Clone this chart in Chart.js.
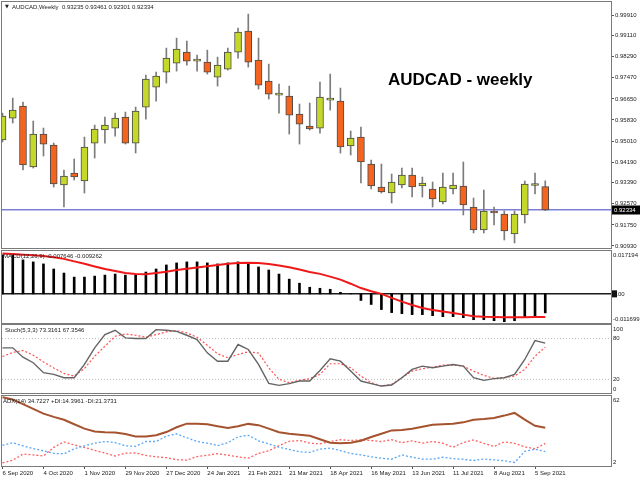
<!DOCTYPE html>
<html>
<head>
<meta charset="utf-8">
<title>AUDCAD weekly</title>
<script src="https://cdn.jsdelivr.net/npm/chart.js@4.4.1/dist/chart.umd.min.js"></script>
<style>
  html, body { margin: 0; padding: 0; background: #ffffff; }
  .stage { position: relative; width: 640px; height: 480px; overflow: hidden; background: #ffffff; }
  .stage canvas { position: absolute; left: 0; }
</style>
</head>
<body>
<div class="stage">
  <canvas id="priceChart" width="640" height="250" style="top:0px"></canvas>
  <canvas id="macdChart" width="640" height="76" style="top:249px"></canvas>
  <canvas id="stochChart" width="640" height="72" style="top:323px"></canvas>
  <canvas id="adxChart" width="640" height="86" style="top:394px"></canvas>
</div>
<script>
// ------------------------Weekly candles (6 Sep 2020 .. 12 Sep 2021)----------
const opens = [0.95050, 0.95905, 0.96372, 0.94000, 0.95283, 0.94855, 0.93300, 0.93767, 0.93456, 0.94933,
  0.95439, 0.95516, 0.95944, 0.94933, 0.96333, 0.97110, 0.97694, 0.98044, 0.98471, 0.98121,
  0.98082, 0.97499, 0.97810, 0.98471, 0.99288, 0.98160, 0.97344, 0.96799, 0.96761, 0.96061,
  0.95594, 0.95516, 0.96605, 0.96566, 0.94817, 0.95166, 0.94117, 0.93222, 0.92989, 0.93300,
  0.93689, 0.93261, 0.93145, 0.92639, 0.93145, 0.93261, 0.92445, 0.91551, 0.92250, 0.92173,
  0.91395, 0.92134, 0.93280, 0.93235]
const highs = [0.96100, 0.96683, 0.96527, 0.95789, 0.95516, 0.94933, 0.93883, 0.94311, 0.95166, 0.95633,
  0.95944, 0.96100, 0.96138, 0.96333, 0.97577, 0.97694, 0.98627, 0.99016, 0.98899, 0.98355,
  0.98549, 0.98277, 0.98627, 0.99404, 0.99949, 0.99016, 0.98005, 0.97227, 0.97149, 0.96450,
  0.96488, 0.97305, 0.97616, 0.97072, 0.95400, 0.95555, 0.94272, 0.94117, 0.93728, 0.93961,
  0.93961, 0.93611, 0.93417, 0.93767, 0.93767, 0.94194, 0.92795, 0.93106, 0.92445, 0.92289,
  0.92289, 0.93456, 0.93767, 0.93461]
const lows = [0.94972, 0.95711, 0.93883, 0.93961, 0.94428, 0.93222, 0.92445, 0.93495, 0.92989, 0.94350,
  0.94933, 0.95205, 0.94894, 0.94544, 0.95866, 0.96566, 0.97266, 0.97733, 0.97966, 0.97733,
  0.97616, 0.97149, 0.97771, 0.98238, 0.97888, 0.97033, 0.96644, 0.96100, 0.95283, 0.94894,
  0.95439, 0.95322, 0.96216, 0.94544, 0.94467, 0.93378, 0.93145, 0.92989, 0.92600, 0.93184,
  0.92834, 0.92834, 0.92445, 0.92562, 0.92950, 0.92134, 0.91434, 0.91434, 0.91745, 0.91162,
  0.91045, 0.91823, 0.92950, 0.92301]
const closes = [0.95983, 0.96216, 0.94078, 0.95283, 0.94894, 0.93339, 0.93650, 0.93611, 0.94778, 0.95478,
  0.95633, 0.95905, 0.94933, 0.96177, 0.97422, 0.97538, 0.98238, 0.98588, 0.98121, 0.98199,
  0.97694, 0.97966, 0.98471, 0.99249, 0.98082, 0.97188, 0.96838, 0.96838, 0.96022, 0.95672,
  0.95478, 0.96722, 0.96683, 0.94778, 0.95128, 0.94194, 0.93261, 0.93028, 0.93417, 0.93689,
  0.93222, 0.93378, 0.92756, 0.93222, 0.93300, 0.92523, 0.91551, 0.92289, 0.92212, 0.91512,
  0.92173, 0.93339, 0.93300, 0.92334]

// ------------------------Indicators------------------------------------------
const macdMain = [0.01567, 0.01567, 0.01363, 0.01282, 0.01201, 0.00997, 0.00834, 0.00672, 0.00672, 0.00712,
  0.00753, 0.00794, 0.00753, 0.00753, 0.00875, 0.00997, 0.01160, 0.01241, 0.01282, 0.01282,
  0.01241, 0.01201, 0.01241, 0.01282, 0.01241, 0.01079, 0.00956, 0.00794, 0.00590, 0.00427,
  0.00265, 0.00224, 0.00183, 0.00061, 0.00005, -0.00265, -0.00427, -0.00631, -0.00753, -0.00794,
  -0.00834, -0.00834, -0.00875, -0.00916, -0.00916, -0.00956, -0.01038, -0.01038, -0.01079, -0.01119,
  -0.01079, -0.00956, -0.00875, -0.007646]
const macdSignal = [0.01620, 0.01595, 0.01567, 0.01547, 0.01518, 0.01465, 0.01404, 0.01302, 0.01209, 0.01099,
  0.00997, 0.00916, 0.00834, 0.00794, 0.00786, 0.00834, 0.00883, 0.00956, 0.01005, 0.01058,
  0.01111, 0.01160, 0.01209, 0.01241, 0.01249, 0.01237, 0.01201, 0.01140, 0.01070, 0.00977,
  0.00875, 0.00802, 0.00692, 0.00570, 0.00407, 0.00232, 0.00102, 0.00000, -0.00163, -0.00313,
  -0.00448, -0.00570, -0.00651, -0.00712, -0.00773, -0.00834, -0.00895, -0.00924, -0.00930, -0.00940,
  -0.00940, -0.00940, -0.00930, -0.009262]
const stochMain = [66.4, 66.4, 52.7, 44.5, 29.9, 27.4, 22.5, 22.5, 42.0, 66.4,
  85.9, 92.2, 81.1, 80.1, 80.1, 93.2, 92.2, 90.7, 84.9, 78.6,
  59.1, 46.8, 46.8, 71.3, 64.0, 42.0, 14.2, 11.3, 13.8, 17.6,
  17.6, 33.0, 50.3, 46.8, 32.2, 17.6, 13.8, 10.2, 11.7, 22.5,
  34.7, 39.5, 37.2, 39.5, 42.0, 39.5, 22.5, 18.6, 21.1, 22.5,
  27.4, 49.3, 77.1, 73.3161]
const stochSignal = [53.7, 59.6, 62.5, 55.6, 45.7, 36.9, 28.8, 24.9, 36.1, 54.1,
  68.8, 83.4, 86.9, 84.9, 82.0, 85.9, 89.9, 91.8, 88.4, 82.0,
  70.2, 57.7, 51.8, 56.6, 60.6, 58.8, 37.2, 20.0, 15.2, 18.6,
  21.1, 27.4, 43.0, 43.0, 37.2, 24.9, 15.2, 10.2, 12.7, 22.5,
  32.2, 35.7, 38.1, 41.0, 41.0, 39.5, 32.2, 25.9, 21.5, 22.5,
  24.9, 34.7, 54.1, 67.3546]
const stochLevels = [80, 20]
const adxMain = [61.0, 59.0, 55.1, 51.0, 46.9, 44.1, 41.6, 37.8, 34.0, 31.5,
  31.0, 30.7, 29.5, 27.3, 27.3, 28.3, 31.1, 35.2, 38.3, 38.3,
  37.8, 36.1, 34.6, 36.1, 38.1, 37.0, 34.0, 30.9, 29.6, 28.8,
  27.9, 24.9, 21.9, 21.6, 21.9, 23.6, 26.8, 29.6, 32.5, 32.8,
  34.0, 35.7, 37.4, 37.8, 38.3, 39.4, 41.7, 42.3, 43.2, 45.2,
  47.5, 41.7, 36.5, 34.7227]
const plusDi = [19.7, 22.0, 19.3, 16.9, 15.0, 12.8, 12.5, 16.7, 19.3, 21.6,
  23.0, 22.1, 19.3, 18.8, 23.0, 23.0, 27.6, 29.6, 26.2, 23.0,
  21.6, 19.5, 21.9, 27.0, 28.3, 23.6, 21.0, 18.1, 16.2, 14.1,
  13.7, 16.5, 17.3, 15.2, 12.8, 11.5, 9.9, 8.7, 7.8, 11.5,
  9.5, 8.0, 7.8, 9.5, 8.3, 7.8, 6.7, 8.0, 7.2, 6.5,
  5.0, 14.5, 16.4, 14.3961]
const minusDi = [4.6, 6.9, 12.2, 11.5, 10.6, 18.0, 22.7, 20.0, 18.0, 15.4,
  13.1, 10.6, 13.0, 13.2, 11.1, 9.9, 9.1, 7.4, 7.0, 10.1,
  11.2, 12.6, 11.3, 9.9, 8.7, 12.8, 15.0, 19.4, 23.2, 23.8,
  21.6, 21.0, 23.0, 24.5, 23.8, 24.5, 23.8, 23.0, 24.5, 21.9,
  23.6, 21.6, 23.0, 21.6, 18.1, 22.1, 24.3, 21.4, 18.8, 22.7,
  21.4, 18.4, 16.7, 21.3731]

// ------------------------Axis labels------------------------------------------
const dateLabels = ['6 Sep 2020', '4 Oct 2020', '1 Nov 2020', '29 Nov 2020', '27 Dec 2020', '24 Jan 2021',
  '21 Feb 2021', '21 Mar 2021', '18 Apr 2021', '16 May 2021', '13 Jun 2021', '11 Jul 2021',
  '8 Aug 2021', '5 Sep 2021']
const priceTicks = [0.99910, 0.99110, 0.98290, 0.97470, 0.96650, 0.95830, 0.95010, 0.94190,
  0.93390, 0.92570, 0.91750, 0.90930]
const macdScale = [0.017194, 0, -0.011699]
const macdScaleText = ['0.017194', '0.00', '-0.011699']
const stochScale = [100, 80, 20, 0]
const adxScale = [62, 2]

// ------------------------Layout constants-------------------------------------
const X_MIN = -0.05
const X_MAX = 59.42
const WEEKS_PER_LABEL = 4
const FONT = '"Liberation Sans", Arial, sans-serif'

Chart.defaults.font.family = FONT
Chart.defaults.font.size = 6
Chart.defaults.color = '#1a1a1a'

const idx = closes.map((_, i) => i)
const pts = arr => arr.map((v, i) => ({ x: i, y: v }))
const level = v => [{ x: X_MIN, y: v }, { x: X_MAX, y: v }]

// ------------------------Panel frame / texts plugin---------------------------
const panelDeco = {
  id: 'panelDeco',
  afterDraw(chart, args, opts) {
    const { ctx, chartArea: a } = chart
    const yScale = chart.scales.y
    ctx.save()
    ctx.strokeStyle = '#7a7a7a'
    ctx.lineWidth = 1
    ctx.strokeRect(a.left - 0.5, a.top - 0.5, a.right - a.left + 1, a.bottom - a.top + 1)

    ctx.textBaseline = 'middle'
    ctx.fillStyle = '#1a1a1a'
    if (opts.arrow) {
      ctx.font = '5px "DejaVu Sans"'
      ctx.fillText('\u25BC', a.left + 3, a.top + 5)
    }
    ctx.font = '6px ' + FONT
    if (opts.legend) ctx.fillText(opts.legend, a.left + (opts.legendX || 1), a.top + 5)

    // right side scale labels of indicator windows
    const side = opts.side || []
    side.forEach((s, k) => {
      let py = yScale.getPixelForValue(s.v)
      if (s.v === yScale.max) py += 4
      if (s.v === yScale.min) py -= 4
      if (s.box) {
        ctx.fillStyle = '#111'
        ctx.fillRect(a.right + 1, py - 3.5, 5, 7)
      }
      ctx.fillStyle = '#1a1a1a'
      ctx.fillText(s.text, a.right + 2, py)
    })

    // current price box
    if (opts.priceBox !== undefined) {
      const py = Math.round(yScale.getPixelForValue(opts.priceBox))
      ctx.fillStyle = '#000'
      ctx.fillRect(a.right + 1, py - 4.5, 28, 9)
      ctx.fillStyle = '#fff'
      ctx.fillText(opts.priceBox.toFixed(5), a.right + 3, py)
    }

    if (opts.title) {
      ctx.fillStyle = '#000'
      ctx.font = 'bold 17px ' + FONT
      ctx.fillText(opts.title, 388, 80)
    }
    ctx.restore()
  }
}

const baseOptions = (padding) => ({
  responsive: false,
  animation: false,
  devicePixelRatio: 1,
  events: [],
  layout: { padding },
  plugins: { legend: { display: false }, tooltip: { enabled: false } }
})

const hiddenX = {
  type: 'linear', min: X_MIN, max: X_MAX, offset: false, display: false,
  grid: { offset: false }
}

// ------------------------Price panel-------------------------------------------
const BULL = '#c4d82a'
const BEAR = '#f4641f'
const candleColors = idx.map(i => closes[i] >= opens[i] ? BULL : BEAR)
const lastClose = closes[closes.length - 1]

new Chart(document.getElementById('priceChart'), {
  type: 'bar',
  data: {
    datasets: [
      {
        label: 'body',
        data: idx.map(i => ({ x: i, y: [opens[i], closes[i]] })),
        backgroundColor: candleColors,
        borderColor: '#4a4a4a',
        borderWidth: 1,
        borderSkipped: false,
        barThickness: 7,
        minBarLength: 2,
        grouped: false,
        order: 0
      },
      {
        label: 'wick',
        data: idx.map(i => ({ x: i, y: [lows[i], highs[i]] })),
        backgroundColor: '#7c7c7c',
        barThickness: 1,
        grouped: false,
        order: 1
      },
      {
        type: 'line',
        label: 'bid',
        data: level(lastClose),
        borderColor: '#7d7fd6',
        borderWidth: 1.5,
        pointRadius: 0,
        order: 2
      }
    ]
  },
  options: {
    ...baseOptions({ top: 2, bottom: 2, left: 2, right: 0 }),
    scales: {
      x: hiddenX,
      y: {
        position: 'right',
        min: 0.9085,
        max: 1.0042,
        afterBuildTicks: s => { s.ticks = priceTicks.map(v => ({ value: v })) },
        afterFit: s => { s.width = 29; s.paddingTop = 0; s.paddingBottom = 0 },
        ticks: { callback: v => v.toFixed(5), padding: 1, autoSkip: false, color: '#1a1a1a' },
        grid: { drawOnChartArea: false, tickLength: 3, color: '#555' },
        border: { display: false }
      }
    },
    plugins: {
      legend: { display: false },
      tooltip: { enabled: false },
      panelDeco: {
        arrow: true,
        legendX: 10,
        legend: 'AUDCAD,Weekly  0.93235 0.93461 0.92301 0.92334',
        priceBox: lastClose,
        title: 'AUDCAD - weekly'
      }
    }
  },
  plugins: [panelDeco]
})

// ------------------------MACD panel--------------------------------------------
new Chart(document.getElementById('macdChart'), {
  type: 'bar',
  data: {
    datasets: [
      {
        type: 'line',
        label: 'signal',
        data: pts(macdSignal),
        borderColor: '#f01818',
        borderWidth: 2,
        pointRadius: 0,
        order: 0
      },
      {
        label: 'macd',
        data: pts(macdMain),
        backgroundColor: '#000',
        barThickness: 2,
        grouped: false,
        order: 1
      },
      {
        type: 'line',
        label: 'zero',
        data: level(0),
        borderColor: '#1a1a1a',
        borderWidth: 1.5,
        pointRadius: 0,
        order: 2
      }
    ]
  },
  options: {
    ...baseOptions({ top: 2, bottom: 2, left: 2, right: 29 }),
    scales: {
      x: hiddenX,
      y: { min: -0.011699, max: 0.017194, display: false }
    },
    plugins: {
      legend: { display: false },
      tooltip: { enabled: false },
      panelDeco: {
        legend: 'MACD(12,26,9) -0.007646 -0.009262',
        side: macdScale.map((v, k) => ({ v, text: macdScaleText[k], box: v === 0 }))
      }
    }
  },
  plugins: [panelDeco]
})

// ------------------------Stochastic panel--------------------------------------
new Chart(document.getElementById('stochChart'), {
  type: 'line',
  data: {
    datasets: [
      {
        label: 'main',
        data: pts(stochMain),
        borderColor: '#646464',
        borderWidth: 1.4,
        pointRadius: 0
      },
      {
        label: 'signal',
        data: pts(stochSignal),
        borderColor: '#ff5050',
        borderWidth: 1.2,
        borderDash: [2, 2],
        pointRadius: 0
      },
      ...stochLevels.map(v => ({
        label: 'level ' + v,
        data: level(v),
        borderColor: '#bdbdbd',
        borderWidth: 1,
        borderDash: [1, 2],
        pointRadius: 0
      }))
    ]
  },
  options: {
    ...baseOptions({ top: 2, bottom: 2, left: 2, right: 29 }),
    scales: {
      x: hiddenX,
      y: { min: 0, max: 100, display: false }
    },
    plugins: {
      legend: { display: false },
      tooltip: { enabled: false },
      panelDeco: {
        legendX: 3,
        legend: 'Stoch(5,3,3) 73.3161 67.3546',
        side: stochScale.map(v => ({ v, text: String(v) }))
      }
    }
  },
  plugins: [panelDeco]
})

// ------------------------ADX panel + time axis---------------------------------
new Chart(document.getElementById('adxChart'), {
  type: 'line',
  data: {
    datasets: [
      {
        label: 'ADX',
        data: pts(adxMain),
        borderColor: '#a5532e',
        borderWidth: 2,
        pointRadius: 0
      },
      {
        label: '+DI',
        data: pts(plusDi),
        borderColor: '#5aa8f5',
        borderWidth: 1.3,
        borderDash: [2, 2],
        pointRadius: 0
      },
      {
        label: '-DI',
        data: pts(minusDi),
        borderColor: '#ff6060',
        borderWidth: 1.3,
        borderDash: [2, 2],
        pointRadius: 0
      }
    ]
  },
  options: {
    ...baseOptions({ top: 2, bottom: 0, left: 2, right: 29 }),
    scales: {
      x: {
        type: 'linear',
        min: X_MIN,
        max: X_MAX,
        offset: false,
        afterBuildTicks: s => { s.ticks = dateLabels.map((_, k) => ({ value: k * WEEKS_PER_LABEL })) },
        afterFit: s => { s.height = 14; s.paddingLeft = 0; s.paddingRight = 0 },
        ticks: {
          callback: v => dateLabels[Math.round(v / WEEKS_PER_LABEL)],
          align: 'start',
          padding: 1,
          maxRotation: 0,
          autoSkip: false,
          color: '#1a1a1a'
        },
        grid: { drawOnChartArea: false, tickLength: 3, color: '#555', offset: false },
        border: { display: false }
      },
      y: { min: 2, max: 62, display: false }
    },
    plugins: {
      legend: { display: false },
      tooltip: { enabled: false },
      panelDeco: {
        legend: 'ADX(14) 34.7227 +DI:14.3961 -DI:21.3731',
        side: adxScale.map(v => ({ v, text: String(v) }))
      }
    }
  },
  plugins: [panelDeco]
})
</script>
</body>
</html>
